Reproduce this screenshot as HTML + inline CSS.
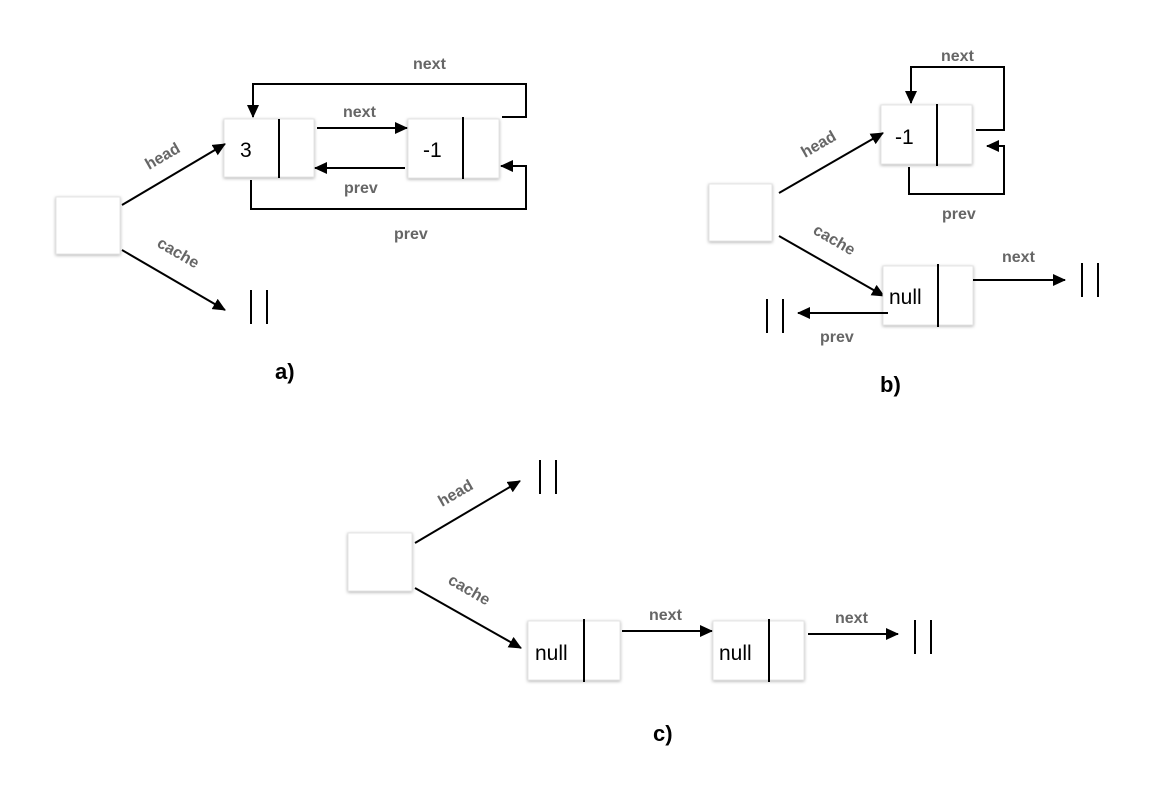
<!DOCTYPE html>
<html><head><meta charset="utf-8"><style>
html,body{margin:0;padding:0;background:#fff;}
svg{display:block;}
.lb{font-family:"Liberation Sans",sans-serif;font-weight:bold;font-size:16px;fill:#666;}
.nt{font-family:"Liberation Sans",sans-serif;font-size:21px;fill:#000;}
.cap{font-family:"Liberation Sans",sans-serif;font-weight:bold;font-size:22px;fill:#000;}
.bx{fill:#fff;stroke:#e4e4e4;stroke-width:1;filter:url(#sh);}
.ln{stroke:#000;stroke-width:2;fill:none;}
</style></head><body>
<svg width="1164" height="786" viewBox="0 0 1164 786" xmlns="http://www.w3.org/2000/svg">
<defs>
<filter id="sh" x="-20%" y="-20%" width="140%" height="140%"><feDropShadow dx="0" dy="1" stdDeviation="1.5" flood-color="#000" flood-opacity="0.3"/></filter>
<marker id="ar" markerWidth="13" markerHeight="12" refX="12" refY="6" orient="auto" markerUnits="userSpaceOnUse"><path d="M0,0 L13,6 L0,12 z" fill="#000"/></marker>
</defs>

<!-- a) -->
<rect class="bx" x="56" y="197" width="64" height="57"/>
<rect class="bx" x="224" y="119" width="90" height="58"/>
<line class="ln" x1="279" y1="119" x2="279" y2="178"/>
<text class="nt" x="240" y="157">3</text>
<rect class="bx" x="408" y="119" width="91" height="59"/>
<line class="ln" x1="463" y1="117" x2="463" y2="179"/>
<text class="nt" x="423" y="157">-1</text>
<line class="ln" x1="122" y1="205" x2="225" y2="144" marker-end="url(#ar)"/>
<line class="ln" x1="122" y1="250" x2="225" y2="310" marker-end="url(#ar)"/>
<line class="ln" x1="251" y1="290" x2="251" y2="324"/><line class="ln" x1="267" y1="290" x2="267" y2="324"/>
<line class="ln" x1="317" y1="128" x2="407" y2="128" marker-end="url(#ar)"/>
<line class="ln" x1="405" y1="168" x2="315" y2="168" marker-end="url(#ar)"/>
<polyline class="ln" points="502,117 526,117 526,84 253,84 253,117" marker-end="url(#ar)"/>
<polyline class="ln" points="251,180 251,209 526,209 526,166 501,166" marker-end="url(#ar)"/>
<text class="lb" x="413" y="69">next</text>
<text class="lb" x="343" y="117">next</text>
<text class="lb" x="344" y="193">prev</text>
<text class="lb" x="394" y="239">prev</text>
<text class="lb" transform="translate(149,170) rotate(-30)">head</text>
<text class="lb" transform="translate(156,246) rotate(30)">cache</text>
<text class="cap" x="275" y="379">a)</text>

<!-- b) -->
<rect class="bx" x="709" y="184" width="63" height="57"/>
<rect class="bx" x="881" y="105" width="91" height="59"/>
<line class="ln" x1="937" y1="104" x2="937" y2="166"/>
<text class="nt" x="895" y="144">-1</text>
<line class="ln" x1="779" y1="193" x2="883" y2="133" marker-end="url(#ar)"/>
<polyline class="ln" points="976,130 1004,130 1004,67 911,67 911,103" marker-end="url(#ar)"/>
<polyline class="ln" points="909,167 909,194 1004,194 1004,146 987,146" marker-end="url(#ar)"/>
<text class="lb" x="941" y="61">next</text>
<text class="lb" x="942" y="219">prev</text>
<line class="ln" x1="779" y1="236" x2="884" y2="296" marker-end="url(#ar)"/>
<text class="lb" transform="translate(812,233) rotate(30)">cache</text>
<text class="lb" transform="translate(805,158) rotate(-30)">head</text>
<rect class="bx" x="883" y="266" width="90" height="59"/>
<line class="ln" x1="938" y1="264" x2="938" y2="327"/>
<text class="nt" x="889" y="304">null</text>
<line class="ln" x1="973" y1="280" x2="1065" y2="280" marker-end="url(#ar)"/>
<line class="ln" x1="1082" y1="263" x2="1082" y2="297"/><line class="ln" x1="1098" y1="263" x2="1098" y2="297"/>
<line class="ln" x1="888" y1="313" x2="798" y2="313" marker-end="url(#ar)"/>
<line class="ln" x1="767" y1="299" x2="767" y2="333"/><line class="ln" x1="783" y1="299" x2="783" y2="333"/>
<text class="lb" x="1002" y="262">next</text>
<text class="lb" x="820" y="342">prev</text>
<text class="cap" x="880" y="392">b)</text>

<!-- c) -->
<rect class="bx" x="348" y="533" width="64" height="58"/>
<line class="ln" x1="415" y1="543" x2="520" y2="481" marker-end="url(#ar)"/>
<line class="ln" x1="540" y1="460" x2="540" y2="494"/><line class="ln" x1="556" y1="460" x2="556" y2="494"/>
<line class="ln" x1="415" y1="588" x2="521" y2="648" marker-end="url(#ar)"/>
<text class="lb" transform="translate(442,507) rotate(-30)">head</text>
<text class="lb" transform="translate(447,583) rotate(30)">cache</text>
<rect class="bx" x="528" y="621" width="92" height="59"/>
<line class="ln" x1="584" y1="619" x2="584" y2="682"/>
<text class="nt" x="535" y="660">null</text>
<line class="ln" x1="622" y1="631" x2="712" y2="631" marker-end="url(#ar)"/>
<rect class="bx" x="713" y="621" width="91" height="59"/>
<line class="ln" x1="769" y1="619" x2="769" y2="682"/>
<text class="nt" x="719" y="660">null</text>
<line class="ln" x1="808" y1="634" x2="898" y2="634" marker-end="url(#ar)"/>
<line class="ln" x1="915" y1="620" x2="915" y2="654"/><line class="ln" x1="931" y1="620" x2="931" y2="654"/>
<text class="lb" x="649" y="620">next</text>
<text class="lb" x="835" y="623">next</text>
<text class="cap" x="653" y="741">c)</text>
</svg>
</body></html>
